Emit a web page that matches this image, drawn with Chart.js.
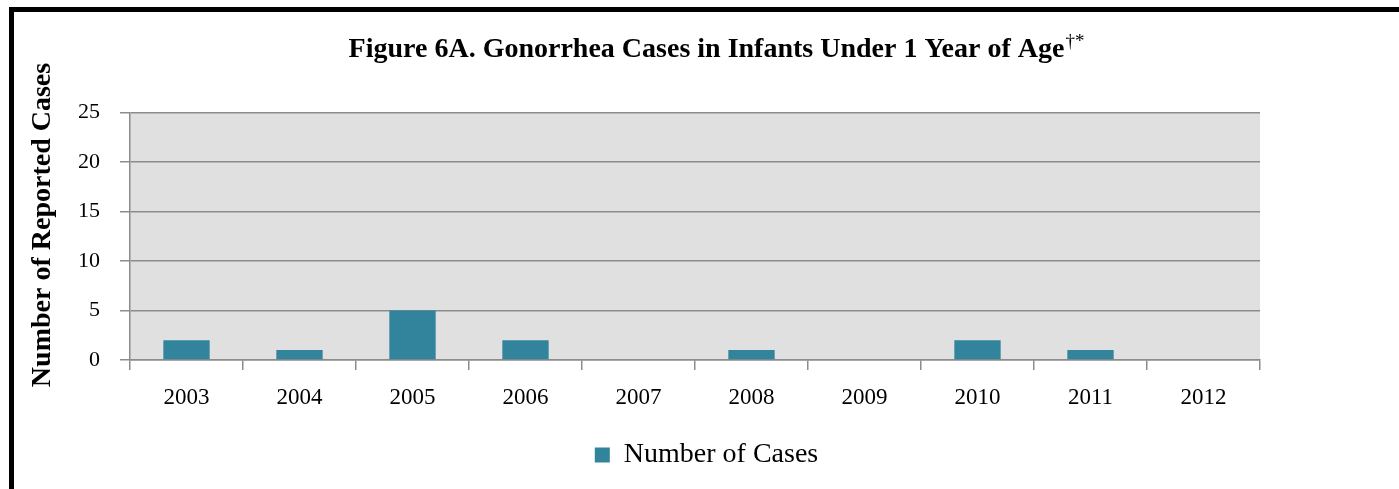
<!DOCTYPE html>
<html>
<head>
<meta charset="utf-8">
<script src="https://cdn.jsdelivr.net/npm/chart.js@4.4.0/dist/chart.umd.min.js"></script>
<style>
    body { margin: 0; background: #fff; width: 1399px; height: 489px; overflow: hidden; }
    #marco { position: absolute; left: 9px; top: 7px; width: 1390px; height: 482px; border-top: 5px solid #000; border-left: 5px solid #000; }
    #grafico { position: absolute; left: 14px; top: 12px; }
</style>
</head>
<body>
<div id="marco"></div>
<canvas id="grafico" width="1385" height="477"></canvas>
<script>
const anios = ['2003', '2004', '2005', '2006', '2007', '2008', '2009', '2010', '2011', '2012'];
const casos = [2, 1, 5, 2, 0, 1, 0, 2, 1, 0];
const tituloTexto = 'Figure 6A. Gonorrhea Cases in Infants Under 1 Year of Age';
const tituloSuper = '†*';
const tituloEjeY = 'Number of Reported Cases';

const fuente = "'Liberation Serif', 'DejaVu Serif', serif";
const tamTitulo = 28;

// fondo gris del area de trazado
const fondoPlugin = {
    id: 'fondo',
    beforeDraw(chart) {
        const { ctx, chartArea: a } = chart;
        ctx.save();
        ctx.fillStyle = '#e0e0e0';
        ctx.fillRect(a.left, a.top, a.right - a.left, a.bottom - a.top);
        ctx.restore();
    }
};

// superindice del titulo y titulo del eje Y
const textosPlugin = {
    id: 'textosExtra',
    afterDraw(chart) {
        const ctx = chart.ctx;
        const t = chart.titleBlock;
        ctx.save();
        ctx.fillStyle = '#000';
        if (t) {
            ctx.font = `bold ${tamTitulo}px ${fuente}`;
            const w = ctx.measureText(tituloTexto).width;
            const cx = (t.left + t.right) / 2;
            const cy = t.top + t.options.padding.top + (tamTitulo * 1.2) / 2;
            ctx.font = `19px ${fuente}`;
            ctx.textBaseline = 'middle';
            ctx.textAlign = 'left';
            ctx.fillText(tituloSuper, cx + w / 2 + 1, cy - 8);
        }
        ctx.translate(29, 213);
        ctx.rotate(-Math.PI / 2);
        ctx.font = `bold 28px ${fuente}`;
        ctx.textAlign = 'center';
        ctx.textBaseline = 'middle';
        ctx.fillText(tituloEjeY, 0, 0);
        ctx.restore();
    }
};

new Chart(document.getElementById('grafico').getContext('2d'), {
    type: 'bar',
    data: {
        labels: anios,
        datasets: [{
            label: 'Number of Cases',
            data: casos,
            backgroundColor: '#31849b',
            barPercentage: 0.41,
            categoryPercentage: 1
        }]
    },
    options: {
        responsive: false,
        animation: false,
        layout: { padding: { left: 0, right: 0, top: 0, bottom: 10 } },
        plugins: {
            title: {
                display: true,
                text: tituloTexto,
                color: '#000',
                font: { family: fuente, size: tamTitulo, weight: 'bold' },
                padding: { top: 21, bottom: 46 }
            },
            legend: {
                position: 'bottom',
                labels: { color: '#000', font: { family: fuente, size: 28 }, boxWidth: 15, boxHeight: 15, padding: 10 }
            },
            tooltip: { enabled: false }
        },
        scales: {
            x: {
                grid: { drawOnChartArea: false, drawTicks: true, tickLength: 10, color: '#8c8c8c', lineWidth: 1.5 },
                border: { color: '#8c8c8c', width: 1.5 },
                ticks: { color: '#000', font: { family: fuente, size: 23 }, padding: 14 },
                afterFit(s) { s.height = 71; }
            },
            y: {
                min: 0,
                max: 25,
                ticks: { stepSize: 5, color: '#000', font: { family: fuente, size: 22 }, padding: 20 },
                grid: { color: '#8c8c8c', lineWidth: 1.5, tickLength: 10 },
                border: { color: '#8c8c8c', width: 1.5 },
                afterFit(s) { s.width = 116; }
            },
            // eje vacio: reserva el margen derecho sin mover titulo ni leyenda
            margenDer: {
                type: 'linear',
                position: 'right',
                grid: { display: false, drawTicks: false },
                border: { display: false },
                ticks: { display: false },
                afterFit(s) { s.width = 139; }
            }
        }
    },
    plugins: [fondoPlugin, textosPlugin]
});
</script>
</body>
</html>
